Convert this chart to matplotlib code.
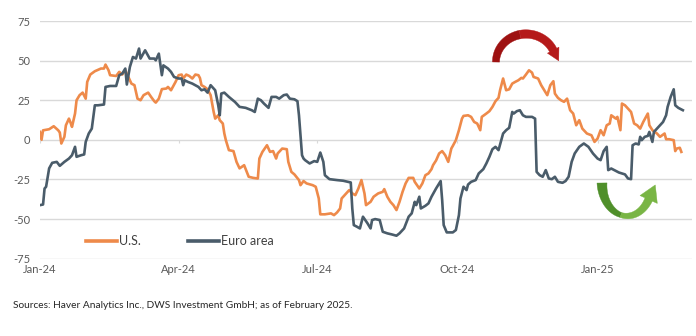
import numpy as np
import pandas as pd
import matplotlib
matplotlib.use("Agg")
import matplotlib.pyplot as plt
from matplotlib.patches import Polygon
from matplotlib.transforms import IdentityTransform

plt.rcParams['font.family'] = ['Lato', 'DejaVu Sans']
plt.rcParams['axes.unicode_minus'] = False

start = pd.Timestamp("2024-01-01")

# days since 1 Jan 2024 and index values
us_days = [0, 1, 2, 6, 9, 12, 13, 14, 16, 17, 19, 20, 21, 23, 24, 26, 28, 30, 31, 33,
           36, 40, 42, 43, 45, 46, 50, 52, 54, 56, 58, 60, 62, 64, 66, 68, 71, 73, 75, 76,
           78, 80, 83, 84, 86, 89, 91, 93, 94, 96, 98, 100, 102, 104, 105, 106, 108, 110, 112, 114,
           115, 117, 118, 120, 121, 122, 124, 127, 129, 131, 134, 137, 140, 143, 144, 146, 149, 151, 153, 155,
           156, 159, 162, 163, 165, 167, 170, 171, 173, 175, 179, 181, 183, 184, 187, 191, 193, 195, 197, 198,
           200, 203, 205, 207, 209, 211, 213, 214, 217, 219, 222, 225, 226, 228, 230, 232, 234, 236, 238, 240,
           242, 245, 246, 249, 251, 253, 255, 257, 258, 260, 262, 264, 266, 268, 270, 271, 273, 275, 277, 278,
           281, 283, 285, 287, 289, 290, 293, 295, 297, 299, 301, 302, 304, 306, 308, 310, 312, 314, 316, 317,
           319, 321, 323, 324, 327, 329, 331, 333, 335, 337, 338, 340, 342, 344, 346, 348, 350, 352, 354, 356,
           359, 362, 364, 366, 368, 370, 372, 374, 375, 378, 379, 381, 382, 384, 386, 388, 390, 392, 394, 396,
           399, 400, 402, 405, 407, 410, 411, 413, 416, 417, 418, 420, 421]
us_vals = [5, 0, 6, 6.7, 8.6, 6, 4.6, -2.3, 1.9, 9.2, 13.4, 11, 8.2, 16.6, 25, 28.2, 29.8, 26, 36.6, 41.2,
           43.3, 45, 45, 47.5, 43.9, 40.8, 40.3, 42.9, 41.2, 43.9, 39.7, 35.5, 34.5, 26, 25, 28.2, 29.8, 27, 24.4, 23.5,
           26, 32, 32.4, 33.4, 31.3, 36.6, 40.8, 41.2, 38.7, 41.2, 40.3, 38.7, 41.2, 40.8, 39, 34.5, 33.4, 31.9, 28.2, 17.6,
           13.4, 15.5, 12.4, 10.3, 4, -0.2, -6.5, -7.1, -13.9, -18, -16, -23.3, -24, -24.4, -11.8, -7.6, -3.4, -7.6, -7.1, -11.8,
           -8.6, -5.5, -5.9, -13.9, -20.2, -21.8, -25.4, -28.6, -26, -27.5, -28.6, -29.6, -37, -47, -47, -46.4, -47.5, -45.8, -43.3, -37,
           -34.9, -31.7, -33.8, -34.9, -30.7, -25.4, -33.8, -41.2, -39.1, -35.9, -33.8, -32.8, -31.1, -35.9, -39.1, -41.2, -44.3, -39.1, -32.8, -27.5,
           -24, -24, -26.5, -30.7, -27.5, -22.3, -21.2, -18.5, -16, -13, -8.6, -7.1, -9.7, -13.9, -5.5, -3.8, -0.2, 6.1, 13.4, 15.1,
           15.5, 14.5, 11.3, 10.3, 6.1, 14.5, 16.6, 18.1, 20.8, 24.4, 26.5, 31.3, 38.7, 31.3, 31.9, 35.5, 36.6, 37.6, 39.1, 38.7,
           41.2, 43.9, 42.4, 39.7, 38.7, 34.5, 31.3, 28.2, 34.5, 37, 29.2, 26.5, 25, 24, 26, 18.7, 16.6, 9.2, 12.4, 7.1,
           4, 2.9, -1.3, 0.8, 6.1, 2.9, 9.2, 10.3, 15.5, 13.4, 14.5, 6.1, 22.9, 21.8, 19.7, 17.6, 10.3, 9.2, 7.1, 11.3,
           16.6, 9.2, 6.1, 4, 1.9, 4, 0.4, 0.4, -0.2, -7.1, -5.5, -5, -7.6]

ea_days = [0, 2, 3, 4, 6, 8, 11, 13, 16, 19, 21, 23, 24, 27, 29, 30, 32, 34, 36, 38,
           42, 43, 46, 50, 52, 54, 56, 57, 59, 61, 63, 65, 66, 69, 72, 75, 76, 78, 80, 81,
           84, 86, 88, 91, 93, 94, 95, 97, 100, 104, 106, 108, 110, 112, 115, 117, 118, 119, 121, 124,
           128, 131, 135, 139, 141, 143, 145, 147, 150, 152, 155, 157, 160, 162, 164, 167, 169, 170, 172, 173,
           174, 177, 180, 182, 184, 186, 187, 190, 195, 199, 204, 205, 206, 208, 210, 212, 215, 217, 218, 220,
           223, 225, 228, 231, 234, 236, 239, 240, 242, 244, 246, 247, 249, 250, 253, 255, 257, 260, 262, 263,
           264, 265, 267, 271, 273, 275, 276, 278, 280, 281, 283, 286, 288, 291, 293, 295, 297, 299, 301, 304,
           306, 308, 310, 311, 313, 315, 317, 319, 323, 325, 326, 328, 330, 332, 334, 336, 338, 340, 343, 345,
           347, 349, 351, 354, 357, 360, 363, 366, 368, 370, 372, 373, 375, 377, 380, 384, 386, 388, 389, 391,
           393, 394, 395, 397, 399, 400, 402, 403, 405, 408, 409, 411, 412, 414, 416, 417, 419, 422]
ea_vals = [-41.2, -40.8, -30.7, -29.6, -18, -14.5, -13.9, -16.4, -13.9, -11.8, -9.7, -4.4, -10.7, -9.7, -9.2, -1.3, 4, 7.1, 21.8, 21.8,
           22.3, 33.4, 34, 34, 40.8, 41.8, 45, 34.9, 46, 52.3, 51.3, 57.6, 51.3, 56.5, 51.3, 51.3, 50.2, 54.4, 40.8, 47,
           45, 42.9, 39.7, 38.7, 38.7, 34.5, 37.6, 36.6, 35.5, 33.4, 31.3, 31.9, 29.8, 34.5, 31.3, 21.8, 15.5, 29.2, 29.8, 27.1,
           23.9, 20.8, 20.2, 18.7, 17.6, 26, 25, 22.9, 20.2, 27.1, 27.1, 26, 28.2, 28.6, 26, 25.6, 24.4, 15.5, -9.7, -11.8,
           -12.8, -14.9, -13.4, -13.9, -8, -13.9, -22.3, -24.8, -25.4, -25.8, -26.9, -43.3, -53.8, -54.8, -55.9, -48.5, -52.7, -55.9, -50.6, -50,
           -50.6, -58, -59, -59.7, -60.5, -59, -55.9, -53.4, -48.5, -46.4, -39.1, -41.2, -35.9, -43.3, -41.6, -40.1, -35.9, -30.7, -27.5, -26,
           -38, -53.8, -58.4, -58.4, -56.9, -47.5, -37, -29.6, -31.7, -28.2, -26.5, -25.4, -21.2, -18.5, -14.9, -10.7, -5.9, -4.4, -6.5, 4,
           6.1, 7.6, 17.6, 16.6, 18.1, 18.7, 15.5, 14.5, 14.5, 13.4, -20.2, -22.3, -23.3, -19.1, -24.4, -24.8, -23.3, -26.5, -27.1, -26,
           -23.3, -13.9, -8.6, -4.4, -2.3, -4.4, -8.6, -11.8, -12.8, -7.1, -4.4, -19.1, -18.1, -19.1, -20.6, -21.8, -24.4, -24.8, -3.4, -2.3,
           -2.9, 1.9, -0.2, 1.9, 2.5, 5, -1.3, 5, 7.1, 10.3, 11.3, 15.5, 20.8, 27.1, 31.9, 21.8, 20.2, 18.7]

tick_dates = ["2024-01-01", "2024-04-01", "2024-07-01", "2024-10-01", "2025-01-01"]
tick_labels = ["Jan-24", "Apr-24", "Jul-24", "Oct-24", "Jan-25"]
y_ticks = [-75, -50, -25, 0, 25, 50, 75]

US_COLOR = "#EE8A4A"
EA_COLOR = "#4A5C6A"
GRID = "#D9D9D9"
TEXT = "#595959"


def curved_arrow(fig, cx, cy, rx, ry, th0, th1, widths, head_w, head_len, colors):
    """Thick half-ring arrow drawn in pixel coords (y up), split in two coloured halves."""
    n = 80
    th = np.radians(np.linspace(th0, th1, n))
    px = cx + rx * np.cos(th)
    py = cy + ry * np.sin(th)
    dx, dy = np.gradient(px), np.gradient(py)
    norm = np.hypot(dx, dy)
    tx, ty = dx / norm, dy / norm
    nx, ny = -ty, tx
    w = np.interp(np.linspace(0, 1, n), np.linspace(0, 1, len(widths)), widths) / 2
    side_a = np.c_[px + nx * w, py + ny * w]
    side_b = np.c_[px - nx * w, py - ny * w]
    k = n // 2
    first = np.vstack([side_a[:k + 1], side_b[:k + 1][::-1]])
    ex, ey = px[-1], py[-1]
    head = np.array([[ex + nx[-1] * head_w / 2, ey + ny[-1] * head_w / 2],
                     [ex + tx[-1] * head_len, ey + ty[-1] * head_len],
                     [ex - nx[-1] * head_w / 2, ey - ny[-1] * head_w / 2]])
    second = np.vstack([side_a[k:], head, side_b[k:][::-1]])
    for pts, c in [(first, colors[0]), (second, colors[1])]:
        fig.add_artist(Polygon(pts, closed=True, facecolor=c, edgecolor=c, lw=0.3,
                               transform=IdentityTransform()))


us_dates = start + pd.to_timedelta(us_days, unit="D")
ea_dates = start + pd.to_timedelta(ea_days, unit="D")
tick_dt = pd.to_datetime(tick_dates)

fig = plt.figure(figsize=(6.96, 3.36), dpi=100)
ax = fig.add_axes([40 / 696, 77.3 / 336, 652 / 696, 237.7 / 336])

ax.plot(us_dates, us_vals, color=US_COLOR, lw=1.9, label="U.S.", solid_joinstyle="round")
ax.plot(ea_dates, ea_vals, color=EA_COLOR, lw=1.9, label="Euro area", solid_joinstyle="round")

ax.set_ylim(-75, 75)
ax.set_xlim(start, start + pd.Timedelta(days=428))
ax.set_yticks(y_ticks)
ax.set_yticklabels([str(v) for v in y_ticks])
ax.set_xticks(tick_dt)
ax.set_xticklabels(tick_labels)
ax.yaxis.grid(True, color=GRID, lw=1)
ax.set_axisbelow(True)
for s in ax.spines.values():
    s.set_visible(False)
ax.tick_params(axis="both", length=0, colors=TEXT, labelsize=8)
ax.tick_params(axis="y", pad=7)
ax.tick_params(axis="x", pad=4)

# small tick marks on the zero line
ax.vlines(tick_dt, -1.8, 0, color=GRID, lw=0.8)

leg = ax.legend(loc="center left", bbox_to_anchor=(0.07, 0.074), ncol=2, frameon=False,
                fontsize=9, handlelength=2.5, handletextpad=0.2, columnspacing=3.7,
                borderpad=0, borderaxespad=0)
for t in leg.get_texts():
    t.set_color("#404040")
for h in leg.get_lines():
    h.set_linewidth(2.6)

# curved arrows (pixel positions, y measured from the bottom)
curved_arrow(fig, 526, 274, 30, 28, 180, 25, [7, 8.5, 8], 13, 12, ["#9E1111", "#B51A1A"])
curved_arrow(fig, 627, 153, 25, 33, 180, 330, [10, 5, 8], 19, 16, ["#4F8F2A", "#79B545"])

fig.text(13 / 696, 1 - 305 / 336, "Sources: Haver Analytics Inc., DWS Investment GmbH; as of February 2025.",
         fontsize=7.3, color="#262626", va="center", ha="left")

fig.savefig("out.png", dpi=100)
